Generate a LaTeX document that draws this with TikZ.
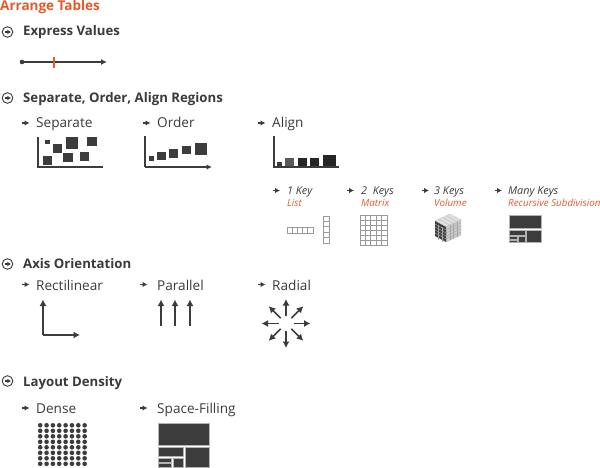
\documentclass[tikz,border=0pt]{standalone}
\usepackage{fontspec}
\setmainfont{Open Sans}
\usetikzlibrary{arrows.meta,calc}
\definecolor{ink}{HTML}{3A3A3A}
\definecolor{darkfill}{HTML}{3C3C3C}
\definecolor{accent}{HTML}{E4592A}
\definecolor{gridline}{HTML}{9A9A9A}
\tikzset{
  title/.style={anchor=base west,inner sep=0,text=accent,font=\fontsize{13.5}{16}\selectfont\bfseries},
  head/.style={anchor=base west,inner sep=0,text=ink,font=\fontsize{13.2}{15}\selectfont\bfseries},
  sub/.style={anchor=base west,inner sep=0,text=ink,font=\fontsize{13.6}{15}\selectfont},
  keytxt/.style={anchor=base west,inner sep=0,text=ink,font=\fontsize{10.8}{12}\selectfont\itshape},
  keyname/.style={anchor=base west,inner sep=0,text=accent,font=\fontsize{9.8}{11}\selectfont\itshape},
  axisline/.style={draw=darkfill,line width=1.3pt},
  axisarrow/.style={draw=darkfill,line width=1.5pt,-{Latex[length=6.5pt,width=7pt]}},
  bullet/.style={draw=darkfill,line width=1.1pt,-{Latex[length=5pt,width=5.5pt]}},
  sq/.style={fill=darkfill,draw=none},
  cell/.style={draw=gridline,fill=white,line width=0.7pt},
  tm/.style={fill=darkfill,draw=gray!60,line width=0.5pt},
  circarrow/.pic={
    \draw[ink,line width=0.9pt] (0,0) circle[radius=5.3];
    \draw[ink,line width=1.1pt,-{Latex[length=3.6pt,width=4.6pt]}] (-3,0) -- (3.5,0);
  },
  treemap/.pic={
    \path[tm] (0,0) rectangle (51,22);
    \path[tm] (0,24) rectangle (25,33);
    \path[tm] (27,24) rectangle (51,44);
    \path[tm] (15,35) rectangle (25,44);
    \path[tm] (0,35) rectangle (13,39);
    \path[tm] (0,40.5) rectangle (13,44);
  }
}
\begin{document}
\begin{tikzpicture}[x=1pt,y=-1pt]
\useasboundingbox (0,0) rectangle (600,468);

% ---------- titles
\node[title] (t0) at (0,11) {Arrange Tables};

\pic at (7.5,32) {circarrow};
\node[head] (h1) at (23,36) {Express Values};

% express values
\coordinate (ev0) at (22,62);
\coordinate (ev1) at (107,62);
\fill[darkfill] (ev0) circle[radius=2.3];
\draw[draw=darkfill,line width=1.3pt,-{Latex[length=6pt,width=6pt]}] (ev0) -- (ev1);
\draw[accent,line width=1.6pt] (54,57) -- (54,68);

% ---------- separate order align
\pic at (7.5,98) {circarrow};
\node[head] (h2) at (23,103) {Separate, Order, Align Regions};

\draw[bullet] (22,123) -- (29.5,123);
\node[sub] (s1) at (36,128) {Separate};
\draw[bullet] (143,123) -- (150.5,123);
\node[sub] (s2) at (157,128) {Order};
\draw[bullet] (258,123) -- (265.5,123);
\node[sub] (s3) at (272,128) {Align};

% separate chart
\draw[axisline] (38,137) -- (38,167) -- (103,167);
\path[sq] (45,140) rectangle (50,144.5);
\path[sq] (53,144) rectangle (62,153);
\path[sq] (66,137) rectangle (78,149);
\path[sq] (87,137) rectangle (97,146);
\path[sq] (43,156) rectangle (52,165);
\path[sq] (63,153) rectangle (73,162);
\path[sq] (80,152) rectangle (89,161);

% order chart
\draw[axisline] (145,136) -- (145,167);
\draw[axisline,-{Latex[length=5.5pt,width=5.5pt]}] (145,167) -- (212,167);
\path[sq] (149,156) rectangle (154,161);
\path[sq] (157,152) rectangle (165.5,160.5);
\path[sq] (169,149) rectangle (178,158);
\path[sq] (182,146) rectangle (191,154.5);
\path[sq] (195,143) rectangle (207,155);

% align chart
\draw[axisline] (274,136) -- (274,167) -- (339,167);
\path[fill=darkfill] (277,162.5) rectangle (282,166.5);
\path[fill=darkfill!85] (285,158.5) rectangle (294,166.5);
\path[fill=black!85] (298,158.5) rectangle (307,166.5);
\path[fill=black!85] (310,158.5) rectangle (319,166.5);
\path[fill=black!85] (323,155.5) rectangle (336,166.5);

% keys
\draw[bullet,line width=1pt] (273,190.5) -- (280,190.5);
\node[keytxt] (k1) at (287,195) {1 Key};
\node[keyname] (k1n) at (287,206) {List};
\draw[bullet,line width=1pt] (347,190.5) -- (354,190.5);
\node[keytxt] (k2) at (361,195) {2\ \ Keys};
\node[keyname] (k2n) at (361,206) {Matrix};
\draw[bullet,line width=1pt] (422,190.5) -- (429,190.5);
\node[keytxt] (k3) at (434,195) {3 Keys};
\node[keyname] (k3n) at (434,206) {Volume};
\draw[bullet,line width=1pt] (495,190.5) -- (502,190.5);
\node[keytxt] (k4) at (508,195) {Many Keys};
\node[keyname] (k4n) at (508,206) {Recursive Subdivision};

% list
\foreach \i in {0,...,4} {
  \path[cell] (287+\i*5.2,227) rectangle ++(5.2,6);
  \path[cell] (323,216+\i*5.4) rectangle ++(6,5.4);
}
% matrix
\foreach \i in {0,...,4} {
  \foreach \j in {0,...,5} {
    \path[cell] (360+\i*5.4,215+\j*5) rectangle ++(5.4,5);
  }
}
% volume cube
\path[fill=gray!25,draw=gray!45,line width=0.4pt] (435,221) -- (450,214) -- (461,220) -- (446,227) -- cycle;
\path[fill=gray!40,draw=gray!55,line width=0.4pt] (446,227) -- (461,220) -- (461,235) -- (446,242) -- cycle;
\path[fill=black!75] (435,221) -- (446,227) -- (446,242) -- (435,236) -- cycle;
\foreach \k in {1,2,3,4} {
  \draw[gray!70,line width=0.4pt] (435,221+\k*3) -- (446,227+\k*3);
  \draw[gray!80,line width=0.3pt] (446,227+\k*3) -- (461,220+\k*3);
}
\foreach \k in {1,2} {
  \draw[gray!70,line width=0.4pt] (435+\k*3.67,223+\k*2) -- (435+\k*3.67,238+\k*2);
}
\foreach \k in {1,2,3} {
  \draw[gray!70,line width=0.3pt] (446+\k*3.75,227-\k*1.75) -- (446+\k*3.75,242-\k*1.75);
  \draw[gray!60,line width=0.3pt] (435+\k*3.75,221-\k*1.75) -- (446+\k*3.75,227-\k*1.75);
}
% many keys treemap
\pic[xscale=0.63,yscale=0.62] at (509,215) {treemap};

% ---------- axis orientation
\pic at (7.5,264) {circarrow};
\node[head] (h3) at (23,268) {Axis Orientation};
\draw[bullet] (22,284.5) -- (29.5,284.5);
\node[sub] (a1) at (36,290) {Rectilinear};
\draw[bullet] (140,284.5) -- (147.5,284.5);
\node[sub] (a2) at (157,290) {Parallel};
\draw[bullet] (258,284.5) -- (265.5,284.5);
\node[sub] (a3) at (272,290) {Radial};

\coordinate (rc) at (43,335);
\draw[axisarrow] (rc) -- (43,299.5);
\draw[axisarrow] (rc) -- (80,335);

\foreach \x in {161,175,190} {
  \draw[axisarrow,line width=1.8pt] (\x,325.5) -- (\x,299.5);
}

\coordinate (rad) at (286,323.5);
\foreach \a in {0,45,...,315} {
  \draw[axisarrow] ($(rad)+(\a:7.5)$) -- ($(rad)+(\a:24.5)$);
}

% ---------- layout density
\pic at (7.5,381) {circarrow};
\node[head] (h4) at (23,386) {Layout Density};
\draw[bullet] (22,408) -- (29.5,408);
\node[sub] (d1) at (36,413) {Dense};
\draw[bullet] (140,408) -- (147.5,408);
\node[sub] (d2) at (157,413) {Space-Filling};

\foreach \i in {0,...,7} {
  \foreach \j in {0,...,7} {
    \fill[darkfill] (40.2+\i*6.35,425.3+\j*5.5) circle[radius=2.3];
  }
}
\pic at (158,423) {treemap};
\end{tikzpicture}
\end{document}
